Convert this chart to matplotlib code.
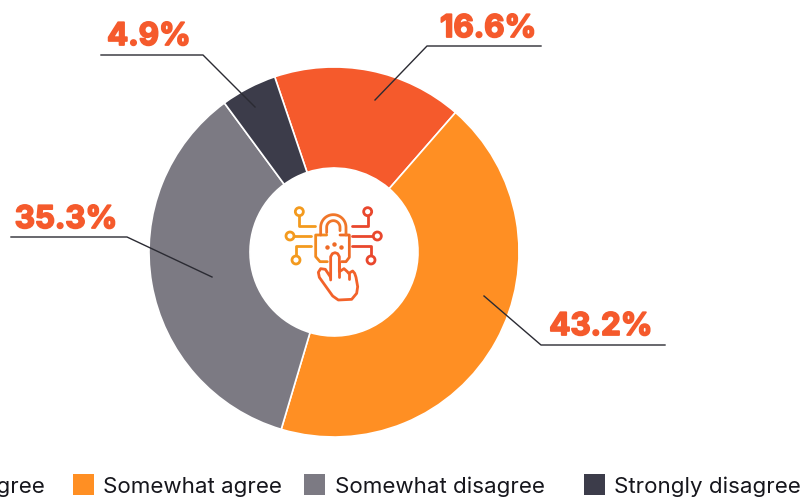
import matplotlib
matplotlib.use("Agg")
import matplotlib.pyplot as plt
import matplotlib.patheffects as pe
from matplotlib.patches import Circle, Rectangle
import numpy as np

categories = ["Strongly agree", "Somewhat agree", "Somewhat disagree", "Strongly disagree"]
values = [16.6, 43.2, 35.3, 4.9]
colors = ["#F55A2C", "#FF8F23", "#7C7A83", "#3C3C4A"]
labels = ["16.6%", "43.2%", "35.3%", "4.9%"]

H = 497
label_pos = [(488, 29), (601, 327), (66, 220), (149, 37)]
leaders = [
    [(375, 100), (427, 46), (541, 46)],
    [(484, 296), (541, 345), (665, 345)],
    [(212, 277), (127, 237), (11, 237)],
    [(255, 107), (203, 55), (101, 55)],
]
legend_square_x = [-157, 73, 304, 584]
legend_text_x = [-111, 103, 335, 614]

plt.rcParams["font.family"] = ["Inter", "DejaVu Sans"]

fig = plt.figure(figsize=(8, 4.97), dpi=100)
ax = fig.add_axes([0, 0, 1, 1])

# donut
ax.pie(values, colors=colors, startangle=108.7, counterclock=False, center=(334, H - 252),
       radius=185, frame=False, wedgeprops=dict(width=101, edgecolor="white", linewidth=1.2))
ax.set_xlim(0, 800)
ax.set_ylim(0, H)
ax.set_aspect("equal")
ax.axis("off")

# leader lines and labels
for pts, lab, pos in zip(leaders, labels, label_pos):
    ax.plot([p[0] for p in pts], [H - p[1] for p in pts], color="#2B2B33", lw=1.0, zorder=5)
    ax.text(pos[0], H - pos[1], lab, color="#F55A2C", fontsize=22.5, fontweight="bold",
            ha="center", va="center", zorder=6,
            path_effects=[pe.withStroke(linewidth=1.3, foreground="#F55A2C")])

# legend
for i in range(len(categories)):
    ax.add_patch(Rectangle((legend_square_x[i], H - 495), 21, 21, facecolor=colors[i], edgecolor="none"))
    ax.text(legend_text_x[i], H - 487, categories[i], color="#16161C", fontsize=16.1, ha="left", va="center")


# icon, coordinates taken from a 3x crop at (270,190)
def ic(x, y):
    return 270 + np.asarray(x, float) / 3, H - (190 + np.asarray(y, float) / 3)


def stroke(x, y, color):
    px, py = ic(x, y)
    ax.plot(px, py, color=color, lw=2.0, solid_capstyle="round", solid_joinstyle="round", zorder=7)


def node(x, y, color):
    px, py = ic(x, y)
    ax.add_patch(Circle((px, py), 4, facecolor="white", edgecolor=color, lw=2.0, zorder=7))


stroke([88, 88, 135], [75, 108, 108], "#F39A1E")
stroke([72, 122], [138, 138], "#F39A1E")
stroke([78, 78, 122], [198, 168, 168], "#F39A1E")
stroke([293, 293, 247], [78, 108, 108], "#E9472D")
stroke([310, 247], [138, 138], "#E9472D")
stroke([303, 303, 247], [198, 168, 168], "#E9472D")
node(88, 65, "#F39A1E")
node(60, 138, "#F39A1E")
node(78, 210, "#F39A1E")
node(293, 65, "#E9472D")
node(322, 138, "#E9472D")
node(303, 210, "#E9472D")

# lock body and shackle
stroke([170, 137, 137, 150, 172], [135, 135, 200, 215, 215], "#F28A20")
stroke([215, 228, 238, 238, 210], [215, 215, 202, 135, 135], "#EE6A26")
t = np.linspace(np.pi, 0, 30)
stroke(np.r_[152, 190 + 38 * np.cos(t), 228], np.r_[135, 112 - 38 * np.sin(t), 135], "#F0762A")
stroke(np.r_[170, 190 + 20 * np.cos(t), 210], np.r_[128, 112 - 20 * np.sin(t), 122], "#F0762A")
for dx, dy in [(170, 170), (192, 163), (213, 170)]:
    px, py = ic(dx, dy)
    ax.plot(px, py, "o", ms=2.2, color="#EE6A26", zorder=7)

# hand
stroke([182, 182, 187, 195, 203, 208, 208, 222, 232, 236, 248, 254, 258, 263, 260, 245, 205, 188, 148, 145, 152, 166, 182],
       [270, 200, 191, 188, 191, 200, 245, 236, 245, 250, 243, 250, 262, 290, 310, 328, 330, 318, 262, 247, 236, 238, 262],
       "#F2622A")
stroke([208, 208], [215, 262], "#F2622A")
stroke([236, 236], [250, 268], "#F2622A")

fig.savefig("out.png", dpi=100)
